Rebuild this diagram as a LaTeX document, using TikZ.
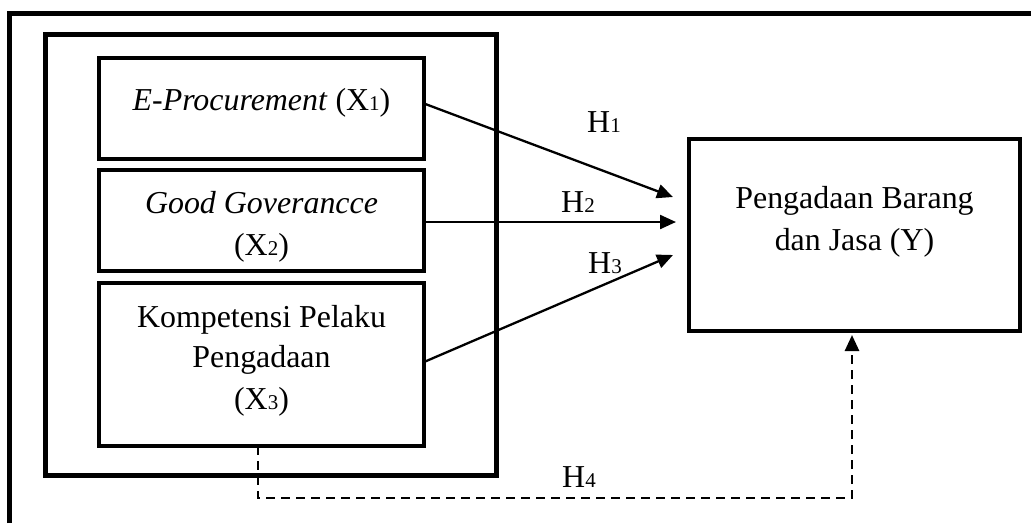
\documentclass[tikz,border=0pt]{standalone}
\usepackage{fontspec}
\setmainfont{Liberation Serif}
\usetikzlibrary{arrows.meta,calc}
\newcommand\idx[1]{\raisebox{-0.5pt}{\fontsize{21}{21}\selectfont #1}}
\begin{document}
\begin{tikzpicture}[x=1pt,y=-1pt,
  box/.style={draw,line width=4.3pt,outer sep=0pt,inner sep=0pt},
  txt/.style={anchor=base,inner sep=0pt,font=\fontsize{31.9}{40}\selectfont},
  conn/.style={line width=2.3pt,-{Triangle[length=16pt,width=14pt]}},
  dconn/.style={conn,line width=2.7pt,dash pattern=on 9pt off 6pt}]
\useasboundingbox (0,0) rectangle (1031,523);
% outer frame (cut off at right and bottom)
\draw[line width=5pt,line join=miter] (9.5,523) -- (9.5,13) -- (1031,13);
% group box
\node[box,line width=5pt,minimum width=450.5pt,minimum height=441pt] (grp) at (270.75,254.5) {};
% variable boxes
\node[box,minimum width=325pt,minimum height=101pt] (X1) at (261.5,108.5) {};
\node[box,minimum width=325pt,minimum height=101pt] (X2) at (261.5,220.5) {};
\node[box,minimum width=325pt,minimum height=163pt] (X3) at (261.5,364.5) {};
\node[box,minimum width=331pt,minimum height=192pt] (Y) at (854.5,235) {};
% texts
\node[txt] (t1) at (261.5,110) {\textit{E-Procurement} (X\idx{1})};
\node[txt] (t2a) at (261.5,213) {\textit{Good Goverancce}};
\node[txt] (t2b) at (261.5,255) {(X\idx{2})};
\node[txt] (t3a) at (261.5,327) {Kompetensi Pelaku};
\node[txt] (t3b) at (261.5,367) {Pengadaan};
\node[txt] (t3c) at (261.5,409) {(X\idx{3})};
\node[txt] (ya) at (854.5,208) {Pengadaan Barang};
\node[txt] (yb) at (854.5,250) {dan Jasa (Y)};
% hypothesis labels
\node[txt] (h1) at (604,132) {H\idx{1}};
\node[txt] (h2) at (578,212) {H\idx{2}};
\node[txt] (h3) at (605,273) {H\idx{3}};
\node[txt] (h4) at (579,487) {H\idx{4}};
% connectors
\draw[conn] ([yshift=5pt]X1.east) -- ([xshift=-16pt,yshift=38pt]Y.west);
\draw[conn] ([yshift=-1.5pt]X2.east) -- ([xshift=-13pt,yshift=13pt]Y.west);
\draw[conn] ([yshift=2.5pt]X3.east) -- ([xshift=-16pt,yshift=-20pt]Y.west);
\coordinate (d1) at (258,498);
\coordinate (d2) at (852,498);
\draw[dconn] ([xshift=-3.5pt]X3.south) -- (d1) -- (d2) -- ([xshift=-2.5pt,yshift=-4pt]Y.south);
\end{tikzpicture}
\end{document}
